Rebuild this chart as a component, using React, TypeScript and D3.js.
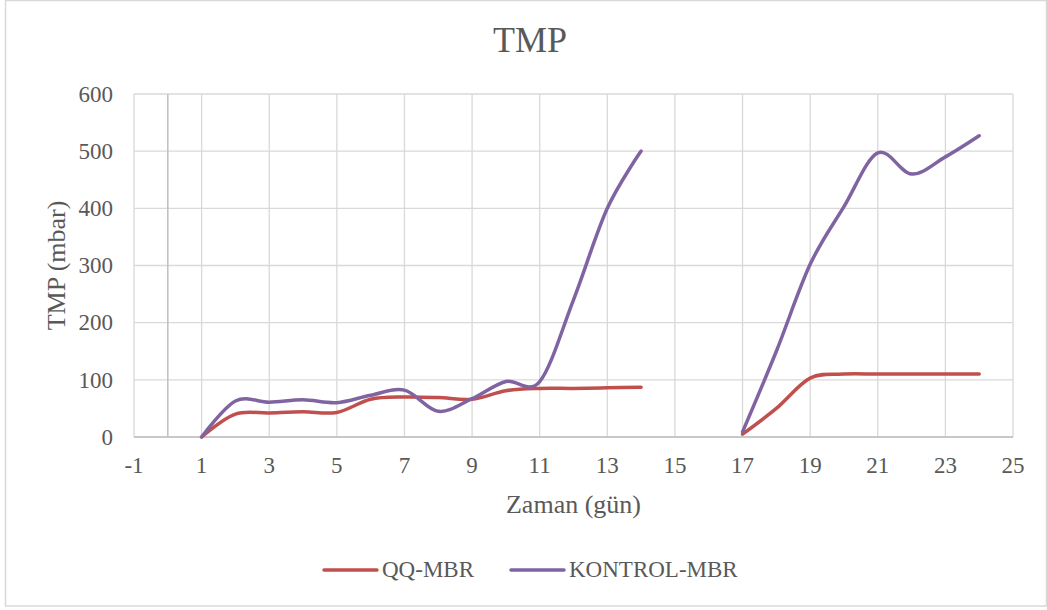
import React from "react";
import * as d3 from "d3";

const days: number[] = [1, 2, 3, 4, 5, 6, 7, 8, 9, 10, 11, 12, 13, 14, 15, 16, 17, 18, 19, 20, 21, 22, 23, 24];
const qqMbr: (number | null)[] = [0, 40, 42, 44, 43, 66, 70, 69, 66, 81, 85, 85, 86, 87, null, null, 5, 50, 103, 110, 110, 110, 110, 110];
const kontrolMbr: (number | null)[] = [0, 63, 61, 65, 60, 73, 82, 45, 67, 97, 97, 240, 400, 500, null, null, 9, 150, 302, 403, 497, 460, 490, 527];
const xTicks: number[] = [-1, 1, 3, 5, 7, 9, 11, 13, 15, 17, 19, 21, 23, 25];
const yTicks: number[] = [0, 100, 200, 300, 400, 500, 600];
const seriesNames = ["QQ-MBR", "KONTROL-MBR"];
const seriesColors = ["#C0504D", "#8064A2"];

const W = 1047;
const H = 610;
const FONT = "Liberation Serif";
const TEXT = "#595959";

export default function App() {
  const x = d3.scaleLinear().domain([-1, 25]).range([134, 1013]);
  const y = d3.scaleLinear().domain([0, 600]).range([437, 94]);

  const line = d3
    .line<[number, number | null]>()
    .defined((d) => d[1] !== null)
    .x((d) => x(d[0]))
    .y((d) => y(d[1] as number))
    .curve(d3.curveCardinal.tension(0));

  const series = [qqMbr, kontrolMbr];

  return (
    <svg
      width={W}
      height={H}
      style={{ position: "absolute", left: 0, top: 0, background: "#fff" }}
      fontFamily={FONT}
    >
      <rect x={0} y={0} width={W} height={H} fill="#fff" />
      <rect x={5.5} y={0.5} width={1041} height={605.5} fill="none" stroke="#d9d9d9" strokeWidth={1.5} />

      {/* title */}
      <text x={530} y={52} textAnchor="middle" fontSize={36} fill={TEXT}>
        TMP
      </text>

      {/* gridlines */}
      {yTicks.map((t) => (
        <line key={"gy" + t} x1={x(-1)} x2={x(25)} y1={y(t)} y2={y(t)} stroke="#d9d9d9" strokeWidth={1.3} />
      ))}
      {xTicks.map((t) => (
        <line key={"gx" + t} x1={x(t)} x2={x(t)} y1={y(0)} y2={y(600)} stroke="#d9d9d9" strokeWidth={1.3} />
      ))}
      {/* axes */}
      <line x1={x(0)} x2={x(0)} y1={y(0)} y2={y(600)} stroke="#bfbfbf" strokeWidth={1.5} />
      <line x1={x(-1)} x2={x(25)} y1={y(0)} y2={y(0)} stroke="#bfbfbf" strokeWidth={1.5} />

      {/* tick labels */}
      {yTicks.map((t) => (
        <text key={"ty" + t} x={113} y={y(t)} dy="0.34em" textAnchor="end" fontSize={23} fill={TEXT}>
          {t}
        </text>
      ))}
      {xTicks.map((t) => (
        <text key={"tx" + t} x={x(t)} y={473} textAnchor="middle" fontSize={23} fill={TEXT}>
          {t}
        </text>
      ))}

      {/* axis titles */}
      <text x={573.5} y={513} textAnchor="middle" fontSize={26} fill={TEXT}>
        Zaman (gün)
      </text>
      <text transform={`translate(65,265.5) rotate(-90)`} textAnchor="middle" fontSize={26} fill={TEXT}>
        TMP (mbar)
      </text>

      {/* lines */}
      {series.map((s, i) => (
        <path
          key={"s" + i}
          d={line(days.map((d, j) => [d, s[j]] as [number, number | null])) || ""}
          fill="none"
          stroke={seriesColors[i]}
          strokeWidth={3.5}
          strokeLinecap="round"
          strokeLinejoin="round"
        />
      ))}

      {/* legend */}
      <line x1={324} x2={377} y1={570} y2={570} stroke={seriesColors[0]} strokeWidth={3.5} strokeLinecap="round" />
      <text x={382} y={576.5} fontSize={23} fill={TEXT}>
        {seriesNames[0]}
      </text>
      <line x1={511} x2={564} y1={570} y2={570} stroke={seriesColors[1]} strokeWidth={3.5} strokeLinecap="round" />
      <text x={569} y={576.5} fontSize={23} fill={TEXT}>
        {seriesNames[1]}
      </text>
    </svg>
  );
}
